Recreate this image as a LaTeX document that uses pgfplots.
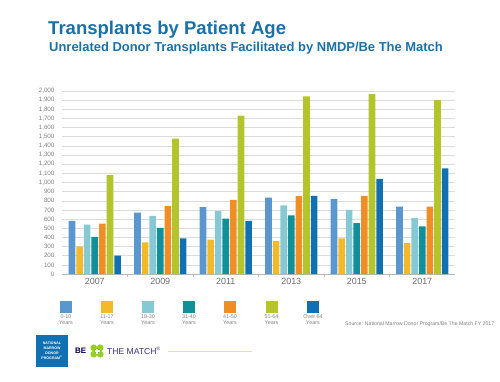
\documentclass[border=0pt]{standalone}
\usepackage{fontspec}
\setmainfont{Liberation Sans}
\usepackage{pgfplots}
\pgfplotsset{compat=1.18}
\definecolor{titleblue}{HTML}{1B70A6}
\definecolor{cA}{HTML}{5A97CF}
\definecolor{cB}{HTML}{F2B92A}
\definecolor{cC}{HTML}{86C9D4}
\definecolor{cD}{HTML}{11909A}
\definecolor{cE}{HTML}{F08E26}
\definecolor{cF}{HTML}{B3C42C}
\definecolor{cG}{HTML}{1170B2}
\definecolor{gridc}{HTML}{DCDCDC}
\definecolor{labc}{HTML}{808080}
\begin{document}
\begin{tikzpicture}[x=1bp,y=1bp]
\path[use as bounding box] (0,0) rectangle (500,381);
\node[anchor=base west, inner sep=0, text=titleblue, font=\bfseries\fontsize{18.6}{18.6}\selectfont] at (48,347) {Transplants by Patient Age};
\node[anchor=base west, inner sep=0, text=titleblue, font=\bfseries\fontsize{13}{13}\selectfont] at (49,330) {Unrelated Donor Transplants Facilitated by NMDP/Be The Match};
\begin{axis}[
  at={(62bp,107bp)}, anchor=south west,
  scale only axis, width=393bp, height=183bp,
  xmin=-0.5, xmax=5.5, ymin=0, ymax=2000,
  ytick distance=100,
  xtick={0,1,2,3,4,5},
  xticklabels={2007,2009,2011,2013,2015,2017},
  axis line style={draw=none},
  tick pos=left,
  ymajorgrids, grid style={gridc, line width=0.6pt},
  major tick length=0pt,
  /pgf/number format/.cd, 1000 sep={,}, assume math mode=true, /pgfplots/.cd,
  yticklabel style={font=\fontsize{6.3}{6.3}\selectfont, text=labc, xshift=-4bp},
  xticklabel style={font=\fontsize{9}{9}\selectfont, text=labc!85!black, yshift=-1bp},
  extra x ticks={0.5,1.5,2.5,3.5,4.5},
  extra x tick labels={},
  extra x tick style={major tick length=3bp, tick align=outside, tick style={gridc!70!gray, line width=0.6pt}, grid=none},
  extra y ticks={0},
  extra y tick labels={},
  extra y tick style={grid style={gridc!60!gray, line width=0.8pt}},
  ybar=1bp, bar width=6.6bp,
  every axis plot/.append style={draw=none},
  clip=false,
]
\addplot[fill=cA] coordinates {(0,580) (1,670) (2,730) (3,835) (4,820) (5,735)};
\addplot[fill=cB] coordinates {(0,300) (1,345) (2,375) (3,360) (4,390) (5,340)};
\addplot[fill=cC] coordinates {(0,540) (1,635) (2,690) (3,750) (4,700) (5,610)};
\addplot[fill=cD] coordinates {(0,405) (1,505) (2,605) (3,640) (4,555) (5,520)};
\addplot[fill=cE] coordinates {(0,550) (1,745) (2,810) (3,850) (4,855) (5,735)};
\addplot[fill=cF] coordinates {(0,1080) (1,1480) (2,1730) (3,1940) (4,1965) (5,1900)};
\addplot[fill=cG] coordinates {(0,200) (1,390) (2,580) (3,855) (4,1040) (5,1155)};
\end{axis}
% legend
\foreach \xx/\cc/\la/\lb in {66/cA/0-10/Years, 107/cB/11-17/Years, 148/cC/18-30/Years, 189/cD/31-40/Years, 230/cE/41-50/Years, 271.5/cF/51-64/Years, 313/cG/Over 64/Years}{
  \fill[\cc] (\xx-6,68) rectangle (\xx+6,80);
  \node[font=\fontsize{5.4}{6.2}\selectfont, text=labc, align=center, inner sep=0, anchor=north] at (\xx,66.5) {\la\\\lb};
}
\node[anchor=west, inner sep=0, font=\fontsize{5.2}{5.2}\selectfont, text=labc] at (345,57) {Source: National Marrow Donor Program/Be The Match FY 2017};
% logo
\fill[cG] (36,14) rectangle (68,46);
\node[align=center, inner sep=0, text=white, font=\bfseries\fontsize{3.6}{5}\selectfont] at (52,30) {NATIONAL\\MARROW\\DONOR\\PROGRAM\textsuperscript{®}};
\node[anchor=west, inner sep=0, text=black!70!blue, font=\bfseries\fontsize{8}{8}\selectfont] at (75,30) {BE};
\foreach \dx/\dy in {-3.2/3.2, 3.2/3.2, -3.2/-3.2, 3.2/-3.2}{\fill[cF!85!green] (97+\dx,30+\dy) circle (3.4);}
\fill[cA] (97,30) circle (2.2);
\fill[white] (96.4,27.5) rectangle (97.6,32.5);
\fill[white] (94.5,29.4) rectangle (99.5,30.6);
\node[anchor=west, inner sep=0, text=black!55!blue!60!gray, font=\fontsize{8.6}{8.6}\selectfont] at (107,30) {THE MATCH\textsuperscript{\tiny ®}};
\draw[line width=0.6pt, color=black!15!yellow!30!white!80!gray] (168,30) -- (252,30);
\end{tikzpicture}
\end{document}
